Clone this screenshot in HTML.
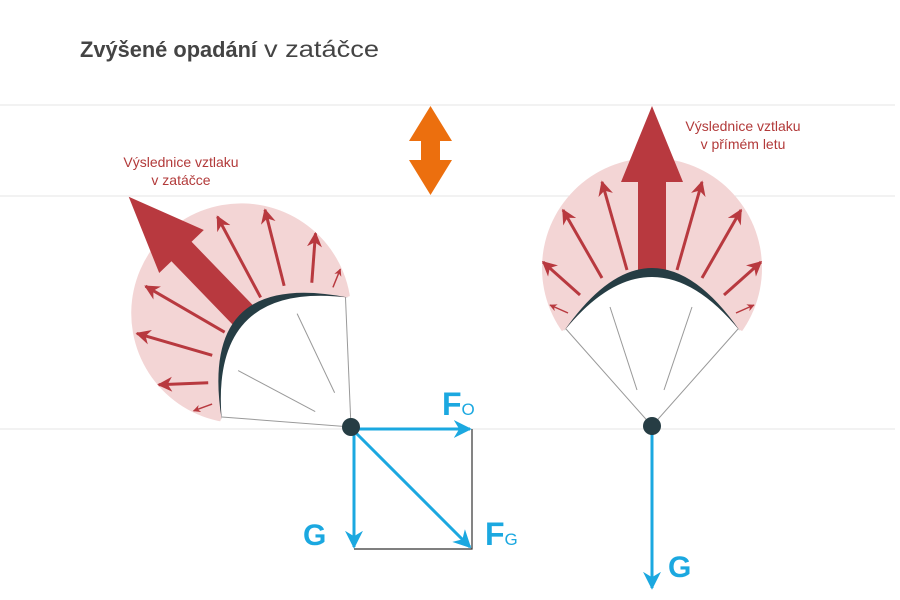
<!DOCTYPE html>
<html><head><meta charset="utf-8"><style>
html,body{margin:0;padding:0;background:#fff;width:900px;height:600px;overflow:hidden}
svg{display:block}
</style></head><body>
<svg width="900" height="600" viewBox="0 0 900 600" xmlns="http://www.w3.org/2000/svg">
<defs>
<marker id="ah" viewBox="0 0 10 10" refX="9" refY="5" markerWidth="5" markerHeight="5" orient="auto" markerUnits="strokeWidth">
<path d="M0,0 L10,5 L0,10 L3,5 Z" fill="#b8393f"/></marker>
<marker id="bh" viewBox="0 0 10 10" refX="9" refY="5" markerWidth="6" markerHeight="6" orient="auto">
<path d="M0,0 L10,5 L0,10 L3,5 Z" fill="#1ba8e0"/></marker>
<g id="canopy">
<circle cx="0" cy="-158" r="110" fill="#f3d5d5"/>
<path d="M-86,-97 Q0,-203 86,-97 L120,-80 L120,-5 L-120,-5 L-120,-80 Z" fill="#fff"/>
<path d="M-86,-97 L0,0 L86,-97" fill="none" stroke="#999" stroke-width="1"/>
<line x1="-42" y1="-119" x2="-15" y2="-36" stroke="#999" stroke-width="1"/>
<line x1="40" y1="-119" x2="12" y2="-36" stroke="#999" stroke-width="1"/>
<g stroke="#b8393f" stroke-width="3" fill="none" marker-end="url(#ah)">
<line x1="-50" y1="-148" x2="-89" y2="-216"/>
<line x1="-25" y1="-156" x2="-50" y2="-244"/>
<line x1="-72" y1="-131" x2="-109" y2="-164"/>
<line x1="-84" y1="-113" x2="-102" y2="-121" stroke-width="1.5"/>
<line x1="50" y1="-148" x2="89" y2="-216"/>
<line x1="25" y1="-156" x2="50" y2="-244"/>
<line x1="72" y1="-131" x2="109" y2="-164"/>
<line x1="84" y1="-113" x2="102" y2="-121" stroke-width="1.5"/>
</g>
<path d="M-14,-156 L-14,-244 L-31,-244 L0,-320 L31,-244 L14,-244 L14,-156 Z" fill="#b8393f"/>
<path d="M-88,-95 Q0,-221 88,-95 Q0,-203 -88,-95 Z" fill="#263d44"/>
</g>
</defs>
<line x1="0" y1="105" x2="895" y2="105" stroke="#e6e6e6"/>
<line x1="0" y1="196" x2="895" y2="196" stroke="#e6e6e6"/>
<text x="80" y="57" font-family="Liberation Sans, sans-serif" font-size="22" font-weight="bold" fill="#444" textLength="177" lengthAdjust="spacingAndGlyphs">Zvýšené opadání</text>
<text x="264" y="57" font-family="Liberation Sans, sans-serif" font-size="23" fill="#444" textLength="115" lengthAdjust="spacingAndGlyphs">v zatáčce</text>
<path d="M430.5,106 L452,141 L440,141 L440,160 L452,160 L430.5,195 L409,160 L421,160 L421,141 L409,141 Z" fill="#ec6f0e"/>
<text font-family="Liberation Sans, sans-serif" font-size="14" fill="#b23a3a" text-anchor="middle"><tspan x="181" y="167">Výslednice vztlaku</tspan><tspan x="181" y="185">v zatáčce</tspan></text>
<text font-family="Liberation Sans, sans-serif" font-size="14" fill="#b23a3a" text-anchor="middle"><tspan x="743" y="131">Výslednice vztlaku</tspan><tspan x="743" y="149">v přímém letu</tspan></text>
<use href="#canopy" transform="translate(652,426)"/>
<use href="#canopy" transform="translate(351,427) rotate(-44) scale(1.0)"/>
<line x1="0" y1="429" x2="895" y2="429" stroke="#e6e6e6"/>
<path d="M472,429 L472,549 L354,549" fill="none" stroke="#333" stroke-width="1.2"/>
<g stroke="#1ba8e0" stroke-width="3" fill="none" marker-end="url(#bh)">
<line x1="351" y1="429" x2="470" y2="429"/>
<line x1="354" y1="429" x2="354" y2="547"/>
<line x1="353" y1="430" x2="470" y2="547"/>
<line x1="652" y1="426" x2="652" y2="588"/>
</g>
<circle cx="351" cy="427" r="9" fill="#263d44"/>
<circle cx="652" cy="426" r="9" fill="#263d44"/>
<g font-family="Liberation Sans, sans-serif" font-weight="bold" fill="#1ba8e0">
<text x="442" y="415" font-size="32">F<tspan font-size="17" font-weight="normal">O</tspan></text>
<text x="303" y="545" font-size="30">G</text>
<text x="485" y="545" font-size="32">F<tspan font-size="17" font-weight="normal">G</tspan></text>
<text x="668" y="577" font-size="30">G</text>
</g>
</svg>
</body></html>
